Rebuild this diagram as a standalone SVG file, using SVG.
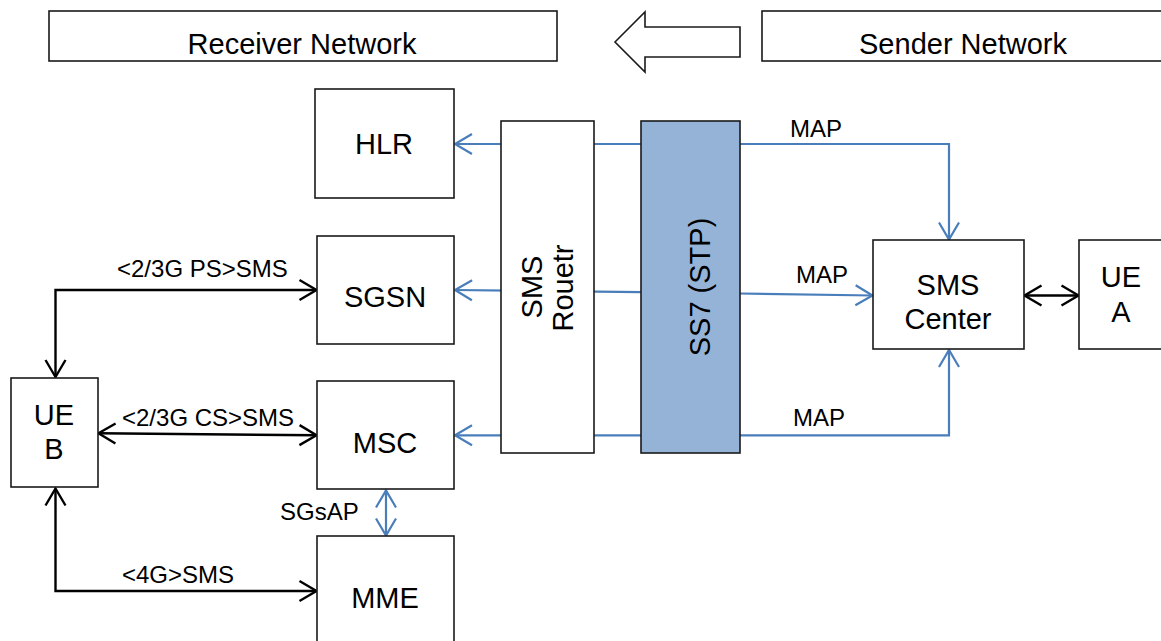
<svg xmlns="http://www.w3.org/2000/svg" width="1161" height="641" viewBox="0 0 1161 641">
<style>
.box{fill:#fff;stroke:#1a1a1a;stroke-width:1.6}
.stp{fill:#95B3D7;stroke:#1a1a1a;stroke-width:1.6}
.t{font-family:"Liberation Sans",Arial,sans-serif;font-size:29px;fill:#000;text-anchor:middle}
.l{font-family:"Liberation Sans",Arial,sans-serif;font-size:24px;fill:#000}
.cb{fill:none;stroke:#4A7EBB;stroke-width:2.2}
.ck{fill:none;stroke:#000;stroke-width:2.4}
</style>
<defs>
<marker id="aB" markerUnits="userSpaceOnUse" markerWidth="20" markerHeight="22" refX="17" refY="10" orient="auto-start-reverse" overflow="visible">
<path d="M0,0 L17,10 L0,20" fill="none" stroke="#4A7EBB" stroke-width="2.2"/>
</marker>
<marker id="aK" markerUnits="userSpaceOnUse" markerWidth="20" markerHeight="22" refX="17" refY="10" orient="auto-start-reverse" overflow="visible">
<path d="M0,0 L17,10 L0,20" fill="none" stroke="#000" stroke-width="2.4"/>
</marker>
</defs>
<rect width="1161" height="641" fill="#fff"/>
<g id="connectors">
<line class="cb" x1="641" y1="144" x2="455" y2="144" marker-end="url(#aB)"/>
<polyline class="cb" points="740,144 949,144 949,239.5" marker-end="url(#aB)"/>
<line class="cb" x1="641" y1="292.2" x2="455" y2="290" marker-end="url(#aB)"/>
<line class="cb" x1="740" y1="293.5" x2="872.5" y2="295.5" marker-end="url(#aB)"/>
<line class="cb" x1="641" y1="435.3" x2="455" y2="435.3" marker-end="url(#aB)"/>
<polyline class="cb" points="740,435.3 949,435.3 949,350" marker-end="url(#aB)"/>
<line class="cb" x1="386" y1="490.5" x2="386" y2="535.5" marker-start="url(#aB)" marker-end="url(#aB)"/>
<polyline class="ck" points="55.5,377 55.5,290 316.5,290" marker-start="url(#aK)" marker-end="url(#aK)"/>
<line class="ck" x1="98.5" y1="433.3" x2="316.5" y2="435.3" marker-start="url(#aK)" marker-end="url(#aK)"/>
<polyline class="ck" points="55.5,488.5 55.5,591 316.5,591" marker-start="url(#aK)" marker-end="url(#aK)"/>
<line class="ck" x1="1024.5" y1="295.5" x2="1078.5" y2="295.5" marker-start="url(#aK)" marker-end="url(#aK)"/>
<text class="l" x="117" y="277">&lt;2/3G PS&gt;SMS</text>
<text class="l" x="122" y="426">&lt;2/3G CS&gt;SMS</text>
<text class="l" x="122" y="583">&lt;4G&gt;SMS</text>
<text class="l" x="280" y="520">SGsAP</text>
<text class="l" x="790" y="137">MAP</text>
<text class="l" x="796" y="283">MAP</text>
<text class="l" x="793" y="426">MAP</text>
</g>
<g id="receiver-network"><rect class="box" x="49" y="11" width="508" height="50"/><text class="t" x="302" y="54">Receiver Network</text></g>
<g id="direction-arrow"><polygon class="box" points="615,42 645,12 645,27 740,27 740,57 645,57 645,72"/></g>
<g id="sender-network"><rect class="box" x="762" y="11" width="420" height="50"/><text class="t" x="963" y="54">Sender Network</text></g>
<g id="hlr"><rect class="box" x="315" y="89" width="139" height="109"/><text class="t" x="384" y="154">HLR</text></g>
<g id="sgsn"><rect class="box" x="317" y="236" width="137" height="108"/><text class="t" x="385" y="307">SGSN</text></g>
<g id="msc"><rect class="box" x="317" y="381" width="137" height="108"/><text class="t" x="385" y="453">MSC</text></g>
<g id="mme"><rect class="box" x="317" y="536" width="137" height="120"/><text class="t" x="385" y="608">MME</text></g>
<g id="ue-b"><rect class="box" x="11" y="378" width="87" height="109"/><text class="t" x="54" y="425">UE</text><text class="t" x="54" y="459">B</text></g>
<g id="sms-router"><rect class="box" x="501" y="121" width="93" height="332"/>
<text class="t" transform="translate(541.5,287) rotate(-90)">SMS</text>
<text class="t" transform="translate(573,288) rotate(-90)">Rouetr</text></g>
<g id="ss7-stp"><rect class="stp" x="641" y="121" width="99" height="332"/>
<text class="t" transform="translate(710,287) rotate(-90)">SS7 (STP)</text></g>
<g id="sms-center"><rect class="box" x="873" y="240" width="151" height="109"/><text class="t" x="948" y="295">SMS</text><text class="t" x="948" y="329">Center</text></g>
<g id="ue-a"><rect class="box" x="1079" y="240" width="100" height="109"/><text class="t" x="1121" y="287">UE</text><text class="t" x="1121" y="322">A</text></g>
</svg>
